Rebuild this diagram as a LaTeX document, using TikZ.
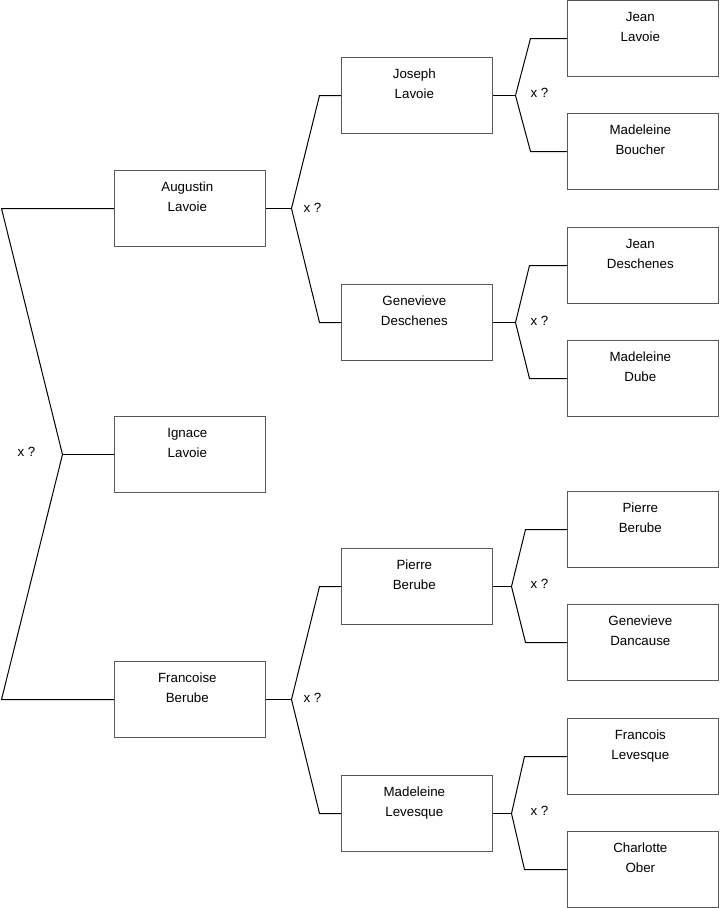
\documentclass[tikz,border=0pt]{standalone}
\usepackage{fontspec}
\setmainfont{Liberation Sans}
\begin{document}
\begin{tikzpicture}[x=0.75pt,y=-0.75pt,
  pbox/.style={draw=black!65, line width=1pt, fill=white, minimum width=113.25pt, minimum height=57pt, inner sep=0pt},
  ptext/.style={anchor=north, inner sep=0pt, align=center, font=\fontsize{10}{15}\selectfont},
  conn/.style={draw=black, line width=0.75pt},
  qlab/.style={inner sep=0pt, font=\fontsize{10}{12}\selectfont}]
\useasboundingbox (-0.5,-0.5) rectangle (718.5,907.5);
\newcommand{\person}[4]{%
  \node[pbox] (#1) at (#2) {};
  \node[ptext] (#1-t) at ([xshift=-2pt,yshift=-5.6pt]#1.north) {\strut #3\\\strut #4};}
% generation 1
\person{aug}{189.5,208}{Augustin}{Lavoie}
\person{ign}{189.5,454}{Ignace}{Lavoie}
\person{fra}{189.5,699}{Francoise}{Berube}
% generation 2
\person{jos}{416.5,95}{Joseph}{Lavoie}
\person{gen}{416.5,322}{Genevieve}{Deschenes}
\person{pie}{416.5,586}{Pierre}{Berube}
\person{mal}{416.5,813}{Madeleine}{Levesque}
% generation 3
\person{jl}{642.5,38}{Jean}{Lavoie}
\person{mb}{642.5,151}{Madeleine}{Boucher}
\person{jd}{642.5,265}{Jean}{Deschenes}
\person{md}{642.5,378}{Madeleine}{Dube}
\person{pb}{642.5,529}{Pierre}{Berube}
\person{gd}{642.5,642}{Genevieve}{Dancause}
\person{fl}{642.5,756}{Francois}{Levesque}
\person{co}{642.5,869}{Charlotte}{Ober}
% coordinates
\coordinate (lt) at (1,208);
\coordinate (lf) at (62,454);
\coordinate (lb) at (1,699);
\coordinate (augF) at (291,208); \coordinate (augT) at (319,95); \coordinate (augB) at (319,322);
\coordinate (fraF) at (291,699); \coordinate (fraT) at (319,586); \coordinate (fraB) at (319,813);
\coordinate (josF) at (515,95); \coordinate (josT) at (530,38); \coordinate (josB) at (530,151);
\coordinate (genF) at (515,322); \coordinate (genT) at (529,265); \coordinate (genB) at (529,378);
\coordinate (pieF) at (511,586); \coordinate (pieT) at (525,529); \coordinate (pieB) at (525,642);
\coordinate (malF) at (511,813); \coordinate (malT) at (524,756); \coordinate (malB) at (524,869);
% connectors
\draw[conn] (aug.west) -- (lt) -- (lf) -- (lb) -- (fra.west);
\draw[conn] (lf) -- (ign.west);
\draw[conn] (jos.west) -- (augT) -- (augF) -- (augB) -- (gen.west);
\draw[conn] (aug.east) -- (augF);
\draw[conn] (pie.west) -- (fraT) -- (fraF) -- (fraB) -- (mal.west);
\draw[conn] (fra.east) -- (fraF);
\draw[conn] (jl.west) -- (josT) -- (josF) -- (josB) -- (mb.west);
\draw[conn] (jos.east) -- (josF);
\draw[conn] (jd.west) -- (genT) -- (genF) -- (genB) -- (md.west);
\draw[conn] (gen.east) -- (genF);
\draw[conn] (pb.west) -- (pieT) -- (pieF) -- (pieB) -- (gd.west);
\draw[conn] (pie.east) -- (pieF);
\draw[conn] (fl.west) -- (malT) -- (malF) -- (malB) -- (co.west);
\draw[conn] (mal.east) -- (malF);
% labels
\node[qlab] (q0) at (26,451) {x ?};
\node[qlab] (q1) at (312,207) {x ?};
\node[qlab] (q2) at (312,697) {x ?};
\node[qlab] (q3) at (539,92) {x ?};
\node[qlab] (q4) at (539,320) {x ?};
\node[qlab] (q5) at (539,583) {x ?};
\node[qlab] (q6) at (539,810) {x ?};
\end{tikzpicture}
\end{document}
